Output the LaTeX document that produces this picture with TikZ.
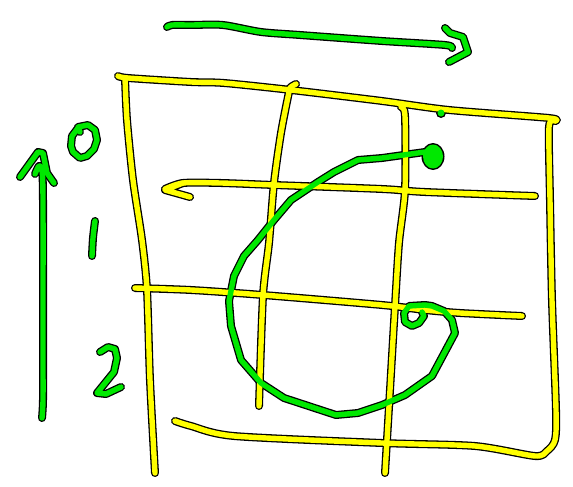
\documentclass[tikz,border=0pt]{standalone}
\pgfdeclarelayer{inkbg}
\pgfsetlayers{inkbg,main}
\definecolor{yel}{RGB}{255,255,0}
\definecolor{grn}{RGB}{0,232,0}
\tikzset{
  edge/.style={draw=black,line width=8pt,line cap=round,line join=round},
  yl/.style={draw=yel,line width=5.4pt,line cap=round,line join=round},
  gr/.style={draw=grn,line width=5.4pt,line cap=round,line join=round},
  sm/.style={smooth,tension=0.45}
}
\newcommand\ink[2]{\begin{pgfonlayer}{inkbg}\draw[edge] #2;\end{pgfonlayer}\draw[#1] #2;}
\begin{document}
\begin{tikzpicture}[x=1pt,y=-1pt]
\useasboundingbox (0,0) rectangle (573,487);
% ---------- yellow grid ----------
\ink{yl}{plot[sm] coordinates {(118,76) (128,78) (191,82) (224,83) (291,90) (382,101) (449,110) (549,118) (555,121)}}
\ink{yl}{plot[sm] coordinates {(555,121) (549,127) (550,200) (552,300) (556,410) (555,440) (547,451) (535,456) (475,446) (382,443) (234,436) (191,426) (175,421)}}
\ink{yl}{plot[sm] coordinates {(125,78) (127,120) (133,180) (142,240) (147,290) (150,380) (155,473)}}
\ink{yl}{(190,197) -- (165,190) -- (183,183)}
\ink{yl}{plot[sm] coordinates {(165,189) (183,183) (221,183) (274,185) (382,189) (425,192) (535,196)}}
\ink{yl}{plot[sm] coordinates {(135,288) (191,290) (263,295) (382,305) (425,310) (460,313) (522,316)}}
\ink{yl}{plot[sm] coordinates {(296,84) (291,87) (289,92) (281,133) (274,183) (269,243) (263,296) (259,406)}}
\ink{yl}{plot[sm] coordinates {(401,107) (405,116) (405,190) (399,243) (395,306) (390,390) (385,473)}}
% ---------- green ----------
\ink{gr}{plot[sm] coordinates {(167,27) (172,25) (191,25) (223,25) (261,32) (300,35) (382,41) (445,45) (452,48)}}
\ink{gr}{(445,28) -- (450,33) -- (463,37) -- (468,52) -- (449,62)}
\ink{gr}{(20,177) -- (38,152) -- (43,153) -- (47,173) -- (54,183)}
\ink{gr}{plot[sm] coordinates {(35,174) (39,166) (42,170) (43,200) (43,343) (43,400) (42,418)}}
% digits
\ink{gr}{(80,132) -- (78,127) -- (88,125) -- (95,130) -- (97,140) -- (94,149) -- (87,156) -- (80,158) -- (73,152) -- (71,146) -- (72,136) -- (78,128)}
\ink{gr}{plot[sm] coordinates {(95,221) (93,238) (92,256)}}
\ink{gr}{(100,352) -- (108,347) -- (115,349) -- (117,358) -- (114,372) -- (97,393) -- (106,394) -- (121,387)}
% spiral
\ink{gr}{(425,152) -- (382,158) -- (358,160) -- (334,172) -- (318,182) -- (291,200) -- (274,220) -- (258,240) -- (244,256) -- (234,276) -- (229,301) -- (231,326) -- (241,360) -- (261,383) -- (284,398) -- (336,415) -- (358,413) -- (382,405) -- (405,395) -- (432,376) -- (455,333) -- (452,320) -- (444,311) -- (432,306) -- (425,305) -- (409,306) -- (404,313) -- (405,322) -- (412,326) -- (419,323) -- (424,316) -- (422,312)}
\begin{pgfonlayer}{inkbg}
\fill[black] (433,156.5) ellipse [x radius=11.5pt, y radius=13.5pt];
\fill[black] (441,113) circle [radius=5pt];
\end{pgfonlayer}
\fill[grn] (433,156.5) ellipse [x radius=10pt, y radius=12pt];
\fill[grn] (441,113) circle [radius=3.5pt];
\end{tikzpicture}
\end{document}
